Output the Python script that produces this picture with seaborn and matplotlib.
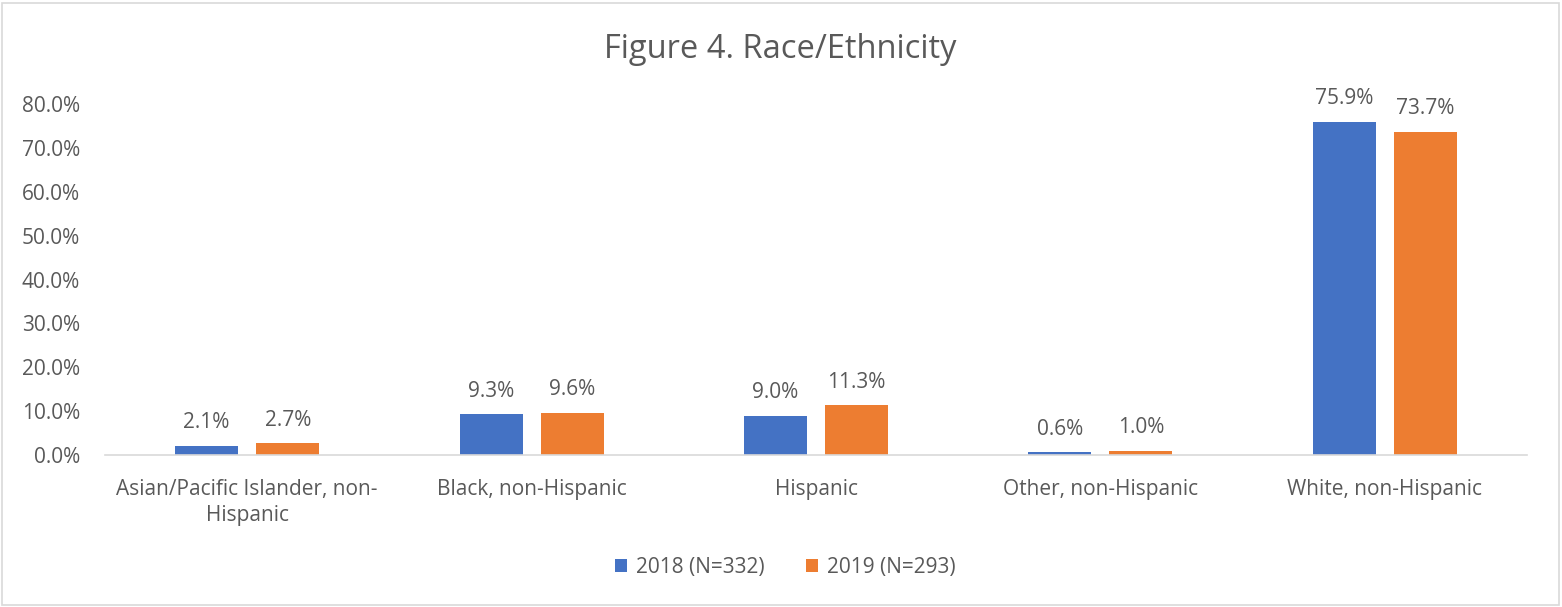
import matplotlib
matplotlib.use("Agg")
import matplotlib.pyplot as plt
import seaborn as sns
import pandas as pd
from matplotlib.ticker import FuncFormatter, MultipleLocator
from matplotlib.patches import Rectangle

categories = ["Asian/Pacific Islander, non-\nHispanic", "Black, non-Hispanic", "Hispanic",
              "Other, non-Hispanic", "White, non-Hispanic"]
series_names = ["2018 (N=332)", "2019 (N=293)"]
values_2018 = [2.1, 9.3, 9.0, 0.6, 75.9]
values_2019 = [2.7, 9.6, 11.3, 1.0, 73.7]
colors = ["#4472C4", "#ED7D31"]

df = pd.DataFrame({
    "category": categories * 2,
    "series": [series_names[0]] * 5 + [series_names[1]] * 5,
    "value": values_2018 + values_2019,
})

sns.set_theme(style="white")
plt.rcParams["font.family"] = ["Open Sans", "DejaVu Sans"]
text_color = "#595959"

fig = plt.figure(figsize=(15.62, 6.07), dpi=100)
ax = fig.add_axes([105 / 1562, 1 - 455 / 607, (1527 - 105) / 1562, (455 - 104) / 607])

sns.barplot(data=df, x="category", y="value", hue="series", palette=colors,
            order=categories, hue_order=series_names, width=0.57, gap=0.222,
            saturation=1, linewidth=0, ax=ax, legend=True)

ax.set_ylim(0, 80)
ax.yaxis.set_major_locator(MultipleLocator(10))
ax.yaxis.set_major_formatter(FuncFormatter(lambda v, p: f"{v:.1f}%"))
ax.set_xlabel("")
ax.set_ylabel("")
for s in ["top", "right", "left"]:
    ax.spines[s].set_visible(False)
ax.spines["bottom"].set_color("#D9D9D9")
ax.spines["bottom"].set_linewidth(1.2)
ax.tick_params(axis="y", length=0, labelsize=15, labelcolor=text_color, pad=18)
ax.tick_params(axis="x", length=0, labelsize=15, labelcolor=text_color, pad=17)
for lbl in ax.get_xticklabels():
    lbl.set_linespacing(1.35)

for cont in ax.containers:
    ax.bar_label(cont, labels=[f"{v:.1f}%" for v in cont.datavalues], padding=9,
                 fontsize=15, color=text_color)

handles, labels = ax.get_legend_handles_labels()
ax.legend_.remove()
fig.legend(handles, labels, loc="center", bbox_to_anchor=(785 / 1562, 1 - 567 / 607),
           ncol=2, frameon=False, fontsize=15, labelcolor=text_color,
           handlelength=0.6, handleheight=0.6, handletextpad=0.4, columnspacing=2.0)

fig.text(780 / 1562, 1 - 50 / 607, "Figure 4. Race/Ethnicity", ha="center", va="center",
         fontsize=23.5, color=text_color)

fig.patches.append(Rectangle((2 / 1562, 2 / 607), 1 - 5 / 1562, 1 - 5 / 607,
                             transform=fig.transFigure, fill=False,
                             edgecolor="#D9D9D9", linewidth=1.2))

fig.savefig("out.png", dpi=100, facecolor="white")
